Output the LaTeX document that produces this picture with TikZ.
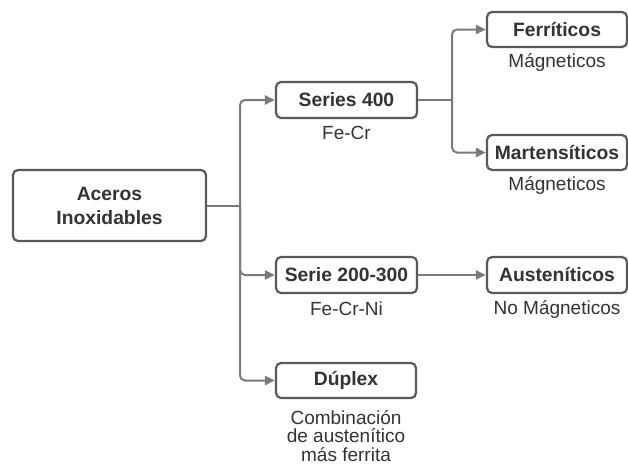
\documentclass[tikz,border=0pt]{standalone}
\usepackage{fontspec}
\setmainfont{Liberation Sans}
\usetikzlibrary{arrows.meta}
\definecolor{boxc}{HTML}{595959}
\definecolor{linec}{HTML}{7A7A7A}
\definecolor{txt}{HTML}{333333}
\begin{document}
\begin{tikzpicture}[x=1pt,y=-1pt,
  box/.style={draw=boxc,line width=2.2pt,rounded corners=5pt,fill=white,
    text=txt,font=\fontsize{19.3}{23}\selectfont\bfseries,align=center,inner sep=0pt},
  sub/.style={text=txt,font=\fontsize{19}{22}\selectfont,align=center,inner sep=0pt},
  conn/.style={draw=linec,line width=2pt,rounded corners=5pt},
  arr/.style={conn,-{Triangle[length=10pt,width=9pt]}}]
\useasboundingbox (0,0) rectangle (628,466);
\node[box,minimum width=193pt,minimum height=71pt] (ac) at (109.5,205.5) {Aceros\\[1pt]Inoxidables};
\node[box,minimum width=141pt,minimum height=36pt] (s4) at (346.5,100) {Series 400};
\node[sub] (s4t) at (346.5,133) {Fe-Cr};
\node[box,minimum width=140pt,minimum height=35pt] (fe) at (557,29.5) {Ferríticos};
\node[sub] (fet) at (557,62) {Mágneticos};
\node[box,minimum width=140pt,minimum height=35pt] (ma) at (557,152.5) {Martensíticos};
\node[sub] (mat) at (557,185) {Mágneticos};
\node[box,minimum width=141pt,minimum height=36pt] (s2) at (346.5,275) {Serie 200-300};
\node[sub] (s2t) at (346.5,309) {Fe-Cr-Ni};
\node[box,minimum width=140pt,minimum height=36pt] (au) at (557,275) {Austeníticos};
\node[sub] (aut) at (557,309) {No Mágneticos};
\node[box,minimum width=140pt,minimum height=35pt] (du) at (346,380.5) {Dúplex};
\node[sub,font=\fontsize{19}{18.3}\selectfont] (dut) at (346,436) {Combinación\\de austenítico\\más ferrita};
\coordinate (tr) at (240,205.5);
\coordinate (br) at (452,100);
\draw[conn] (ac.east) -- (tr);
\draw[arr] (tr) |- (s4.west);
\draw[arr] (tr) |- (s2.west);
\draw[arr] (tr) |- (du.west);
\draw[conn] (s4.east) -- (br);
\draw[arr] (br) |- (fe.west);
\draw[arr] (br) |- (ma.west);
\draw[arr] (s2.east) -- (au.west);
\end{tikzpicture}
\end{document}
